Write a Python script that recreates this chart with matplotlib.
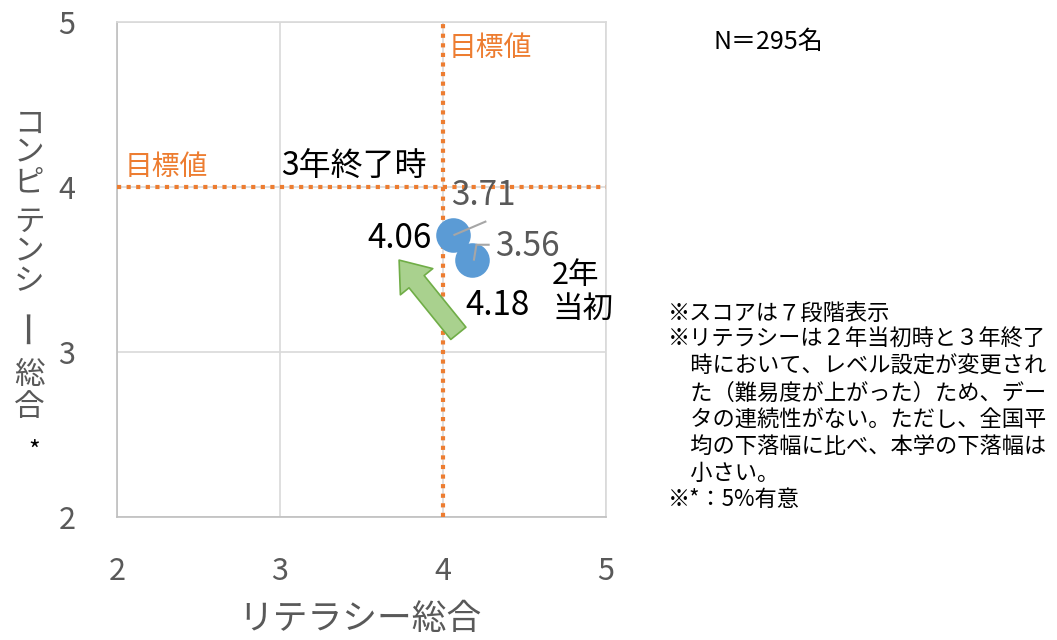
import matplotlib

matplotlib.use("Agg")
import matplotlib.pyplot as plt
from matplotlib.patches import FancyArrowPatch, ArrowStyle

plt.rcParams["font.family"] = ["Noto Sans CJK JP", "DejaVu Sans"]

# data
literacy = [4.06, 4.18]          # リテラシー総合 (x)
competency = [3.71, 3.56]        # コンピテンシー総合 (y)
period = ["3年終了時", "2年当初"]
target_x = 4.0
target_y = 4.0
ticks = [2, 3, 4, 5]

notes = [
    "※スコアは７段階表示",
    "※リテラシーは２年当初時と３年終了",
    "　時において、レベル設定が変更され",
    "　た（難易度が上がった）ため、デー",
    "　タの連続性がない。ただし、全国平",
    "　均の下落幅に比べ、本学の下落幅は",
    "　小さい。",
    "※*：5%有意",
]

GRAY = "#595959"
ORANGE = "#ed7d31"
BLUE = "#5b9bd5"

W, H = 1057, 640
fig = plt.figure(figsize=(W / 100, H / 100), dpi=100)
ax = fig.add_axes([117 / W, 1 - 517 / H, (606 - 117) / W, (517 - 22) / H])

ax.set_xlim(2, 5)
ax.set_ylim(2, 5)
ax.set_xticks(ticks)
ax.set_yticks(ticks)
ax.grid(True, color="#d9d9d9", linewidth=1.2)
for s in ax.spines.values():
    s.set_color("#d9d9d9")
    s.set_linewidth(1.2)
ax.spines["left"].set_color("#bfbfbf")
ax.spines["bottom"].set_color("#bfbfbf")
ax.tick_params(length=0, labelsize=22, labelcolor=GRAY)
ax.tick_params(axis="x", pad=28)
ax.tick_params(axis="y", pad=30)

# target lines
ax.axvline(target_x, color=ORANGE, linestyle=(0, (1, 1.3)), linewidth=3, zorder=3)
ax.axhline(target_y, color=ORANGE, linestyle=(0, (1, 1.3)), linewidth=3, zorder=3)
ax.text(4.035, 4.84, "目標値", color=ORANGE, fontsize=20, va="center", ha="left")
ax.text(2.045, 4.12, "目標値", color=ORANGE, fontsize=20, va="center", ha="left")

# points
ax.scatter(literacy, competency, s=620, color=BLUE, zorder=4, linewidths=0)

# value labels
ax.plot([4.07, 4.26], [3.71, 3.79], color="#a6a6a6", lw=1.5, zorder=5)
ax.text(4.05, 3.95, f"{competency[0]:.2f}", color=GRAY, fontsize=24, va="center", ha="left")
ax.plot([4.19, 4.205, 4.28], [3.56, 3.65, 3.65], color="#a6a6a6", lw=1.5, zorder=5)
ax.text(4.32, 3.64, f"{competency[1]:.2f}", color=GRAY, fontsize=24, va="center", ha="left")
ax.text(3.93, 3.69, f"{literacy[0]:.2f}", color="black", fontsize=24, va="center", ha="right")
ax.text(4.14, 3.28, f"{literacy[1]:.2f}", color="black", fontsize=24, va="center", ha="left")

# period labels
ax.text(3.01, 4.12, period[0], color="black", fontsize=23, va="center", ha="left")
ax.text(4.67, 3.36, period[1][:2] + "\n" + period[1][2:], color="black", fontsize=22,
        va="center", ha="left", linespacing=1.15)

# arrow
arrow = FancyArrowPatch(
    (4.105, 3.10), (3.72, 3.57),
    arrowstyle=ArrowStyle("Simple", head_length=20, head_width=30, tail_width=14),
    mutation_scale=1, facecolor="#a9d18e", edgecolor="#70ad47", lw=1.2, zorder=3,
)
ax.add_patch(arrow)

# axis titles
fig.text(360 / W, 1 - 619 / H, "リテラシー総合", color=GRAY, fontsize=25, ha="center", va="center")
ylab = "コンピテンシー総合"
ylab_y = [124, 152, 183, 222, 251, 282, 325, 375, 408]
for ch, yp in zip(ylab, ylab_y):
    if ch == "ー":
        fig.text(29 / W, 1 - yp / H, ch, color=GRAY, fontsize=27, ha="center", va="center",
                 rotation=90)
    else:
        fig.text(29 / W, 1 - yp / H, ch, color=GRAY, fontsize=22, ha="center", va="center")
fig.text(34 / W, 1 - 452 / H, "*", color="black", fontsize=18, ha="center", va="center")

# notes
fig.text(713 / W, 1 - 42 / H, "N＝295名", color="black", fontsize=18, ha="left", va="center")
for i, line in enumerate(notes):
    fig.text(668 / W, 1 - (313 + i * 26.7) / H, line, color="black", fontsize=16,
             ha="left", va="center")

fig.savefig("out.png", dpi=100)
